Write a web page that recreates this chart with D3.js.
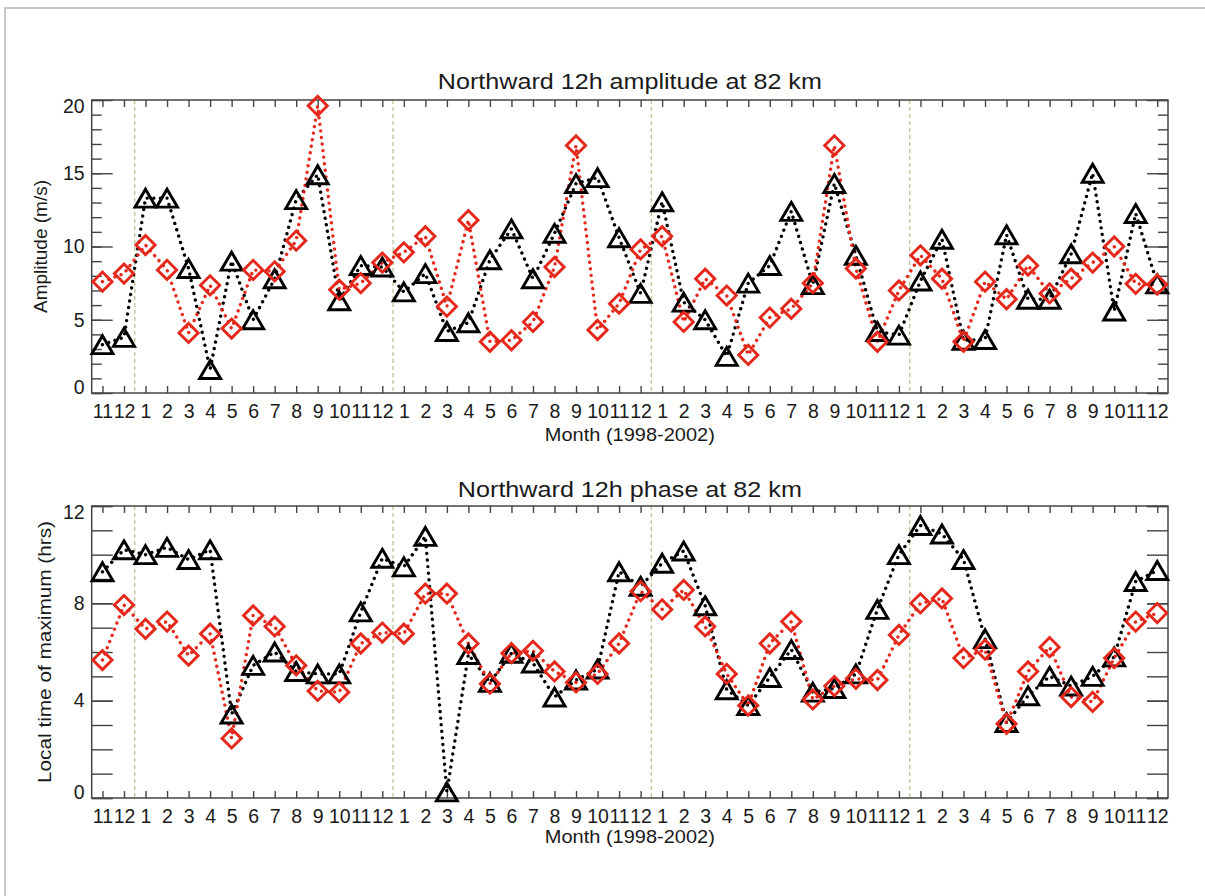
<!DOCTYPE html>
<html>
<head>
<meta charset="utf-8">
<script src="https://cdn.jsdelivr.net/npm/d3@7"></script>
<style>
  html, body { margin: 0; padding: 0; background: #fff; }
  svg { display: block; }
  text { font-family: "Liberation Sans", Arial, Helvetica, sans-serif; fill: #1a1a1a; }
</style>
</head>
<body>
<svg id="chart" width="1205" height="896"></svg>
<script>
// ---------------- data ----------------
const monthLabels = ["11","12",
  "1","2","3","4","5","6","7","8","9","10","11","12",
  "1","2","3","4","5","6","7","8","9","10","11","12",
  "1","2","3","4","5","6","7","8","9","10","11","12",
  "1","2","3","4","5","6","7","8","9","10","11","12"];
const yearBreaks = [1.5, 13.5, 25.5, 37.5];

const amplitudeBlack = [3.3,3.8,13.3,13.3,8.5,1.6,9.0,5.0,7.8,13.2,14.9,6.3,8.7,8.6,
  6.9,8.15,4.2,4.8,9.1,11.2,7.8,10.9,14.3,14.7,10.6,6.8,
  13.05,6.2,5.0,2.5,7.5,8.7,12.4,7.4,14.3,9.4,4.2,3.95,
  7.65,10.5,3.6,3.65,10.8,6.4,6.4,9.5,15.0,5.6,12.25,7.45];
const amplitudeRed = [7.6,8.15,10.1,8.4,4.1,7.35,4.4,8.4,8.3,10.4,19.6,7.05,7.5,8.9,
  9.6,10.7,5.9,11.8,3.5,3.6,4.85,8.6,16.9,4.3,6.1,9.8,
  10.7,4.85,7.8,6.65,2.6,5.15,5.75,7.5,16.9,8.5,3.5,7.0,
  9.4,7.8,3.5,7.6,6.4,8.7,6.8,7.8,8.9,10.0,7.45,7.4];
const phaseBlack = [9.3,10.2,10.0,10.3,9.8,10.2,3.45,5.45,6.0,5.2,5.1,5.1,7.65,9.85,
  9.5,10.75,0.25,5.9,4.75,5.95,5.55,4.15,4.85,5.3,9.3,8.7,
  9.65,10.15,7.9,4.45,3.8,4.95,6.1,4.35,4.5,5.1,7.75,10.0,
  11.2,10.85,9.8,6.55,3.1,4.2,5.0,4.6,5.0,5.8,8.9,9.35];
const phaseRed = [5.67,7.93,6.95,7.25,5.85,6.75,2.45,7.5,7.05,5.45,4.4,4.35,6.35,6.8,
  6.75,8.4,8.4,6.35,4.7,5.95,6.05,5.2,4.75,5.1,6.35,8.5,
  7.75,8.55,7.05,5.1,3.8,6.35,7.25,4.05,4.6,4.9,4.85,6.7,
  8.0,8.2,5.75,6.1,3.05,5.2,6.2,4.15,3.95,5.75,7.25,7.6];

const amplitudeTicks = [0,5,10,15,20];
const phaseTicks = [0,4,8,12];

// ---------------- drawing ----------------
const svg = d3.select("#chart");
svg.append("rect").attr("x",0).attr("y",0).attr("width",1205).attr("height",896).attr("fill","#fff");
svg.append("rect").attr("x",5).attr("y",8).attr("width",1400).attr("height",1200)
  .attr("fill","none").attr("stroke","#c8c8c8").attr("stroke-width",2);

const X0 = 91.7, X1 = 1168;
const x = d3.scaleLinear().domain([-0.5, 49.5]).range([X0, X1]);
const RED = "#e5281c";

function panel(cfg) {
  const y = d3.scaleLinear().domain(cfg.domain).range([cfg.bottom, cfg.top]);
  const g = svg.append("g");
  const idx = d3.range(monthLabels.length);

  // year separators
  g.selectAll("line.sep").data(yearBreaks).join("line")
    .attr("x1", d => x(d)).attr("x2", d => x(d))
    .attr("y1", cfg.top).attr("y2", cfg.bottom)
    .attr("stroke", "#bcc394").attr("stroke-width", 1.3).attr("stroke-dasharray", "4,3");

  const minor = d3.range(cfg.domain[0], cfg.domain[1] + 1, 1);
  const styleAxis = sel => {
    sel.select(".domain").remove();
    sel.selectAll(".tick line").attr("stroke", "#444").attr("stroke-width", 1.4);
  };
  g.append("g").attr("transform", `translate(${X0},0)`)
    .call(d3.axisLeft(y).tickValues(minor).tickSize(-cfg.minorLen).tickFormat(""))
    .call(styleAxis);
  g.append("g").attr("transform", `translate(${X1},0)`)
    .call(d3.axisRight(y).tickValues(minor).tickSize(-cfg.minorLen).tickFormat(""))
    .call(styleAxis);
  const left = g.append("g").attr("transform", `translate(${X0},0)`)
    .call(d3.axisLeft(y).tickValues(cfg.ticks).tickSize(-21).tickPadding(7).tickFormat(d3.format("d")))
    .call(styleAxis);
  left.selectAll(".tick text").attr("font-size", 19.5).attr("fill", "#1a1a1a")
    .attr("dy", d => d === cfg.domain[1] ? "0.62em" : (d === cfg.domain[0] ? "0.0em" : "0.32em"));
  g.append("g").attr("transform", `translate(${X1},0)`)
    .call(d3.axisRight(y).tickValues(cfg.ticks).tickSize(-21).tickFormat(""))
    .call(styleAxis);

  const bottomAx = g.append("g").attr("transform", `translate(0,${cfg.bottom})`)
    .call(d3.axisBottom(x).tickValues(idx).tickSize(-7).tickPadding(11).tickFormat(i => monthLabels[i]))
    .call(styleAxis);
  bottomAx.selectAll(".tick text").attr("font-size", 19.5).attr("fill", "#1a1a1a");
  g.append("g").attr("transform", `translate(0,${cfg.top})`)
    .call(d3.axisTop(x).tickValues(idx).tickSize(-7).tickFormat(""))
    .call(styleAxis);

  g.append("rect").attr("x", X0).attr("y", cfg.top).attr("width", X1 - X0).attr("height", cfg.bottom - cfg.top)
    .attr("fill", "none").attr("stroke", "#444").attr("stroke-width", 1.5);

  const line = d3.line().x((d, i) => x(i)).y(d => y(d));
  const series = [
    {data: cfg.black, color: "#000", shape: "tri"},
    {data: cfg.red, color: RED, shape: "dia"}
  ];
  series.forEach(s => {
    g.append("path").datum(s.data).attr("d", line)
      .attr("fill", "none").attr("stroke", s.color).attr("stroke-width", 3.4)
      .attr("stroke-linecap", "round").attr("stroke-dasharray", "0.01,6.6");
  });
  series.forEach(s => {
    const sym = s.shape === "tri" ? "M0,-9L10.5,9L-10.5,9Z" : "M0,-9.6L9.6,0L0,9.6L-9.6,0Z";
    g.selectAll(null).data(s.data).join("path")
      .attr("transform", (d, i) => `translate(${x(i)},${y(d)})`)
      .attr("d", sym).attr("fill", "none").attr("stroke", s.color)
      .attr("stroke-width", 2.9).attr("stroke-linejoin", "miter");
  });

  const cx = (X0 + X1) / 2;
  svg.append("text").attr("x", cx).attr("y", cfg.titleY)
    .attr("text-anchor", "middle").attr("font-size", 22)
    .attr("textLength", cfg.titleLen).attr("lengthAdjust", "spacingAndGlyphs").text(cfg.title);
  svg.append("text").attr("x", cx).attr("y", cfg.xTitleY)
    .attr("text-anchor", "middle").attr("font-size", 18.5)
    .attr("textLength", 170).attr("lengthAdjust", "spacingAndGlyphs").text("Month (1998-2002)");
  svg.append("text").attr("transform", `translate(${cfg.yTitleX},${(cfg.top + cfg.bottom) / 2}) rotate(-90)`)
    .attr("text-anchor", "middle").attr("font-size", 18.5)
    .attr("textLength", cfg.yTitleLen).attr("lengthAdjust", "spacingAndGlyphs").text(cfg.yTitle);
}

panel({
  domain: [0, 20], ticks: amplitudeTicks, top: 100, bottom: 393, minorLen: 10,
  black: amplitudeBlack, red: amplitudeRed,
  title: "Northward 12h amplitude at 82 km", titleY: 89, titleLen: 384, xTitleY: 441,
  yTitle: "Amplitude (m/s)", yTitleX: 47, yTitleLen: 133
});
panel({
  domain: [0, 12], ticks: phaseTicks, top: 506, bottom: 798, minorLen: 21,
  black: phaseBlack, red: phaseRed,
  title: "Northward 12h phase at 82 km", titleY: 497, titleLen: 344, xTitleY: 843,
  yTitle: "Local time of maximum (hrs)", yTitleX: 51, yTitleLen: 262
});
</script>
</body>
</html>
